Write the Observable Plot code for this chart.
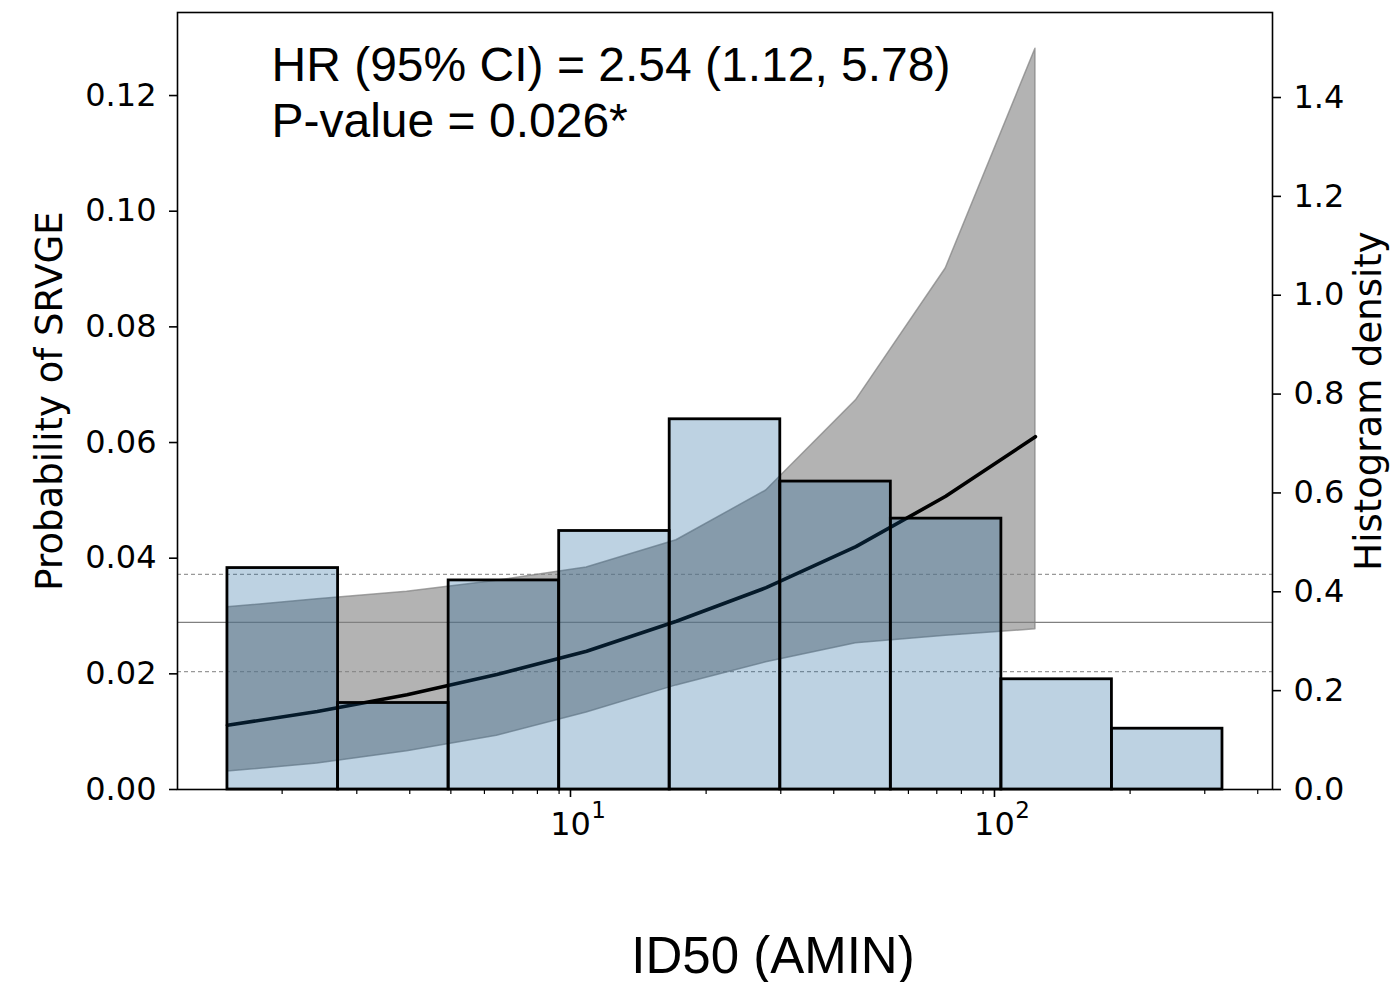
<!DOCTYPE html>
<html>
<head>
<meta charset="utf-8">
<script src="https://cdn.jsdelivr.net/npm/d3@7"></script>
<script src="https://cdn.jsdelivr.net/npm/@observablehq/plot@0.6"></script>
<style>
  html, body { margin: 0; padding: 0; background: #fff; }
</style>
</head>
<body>
<div id="chart"></div>
<script>
// ---- data ----
const binEdges = [1.486, 2.710, 4.940, 9.005, 16.41, 29.92, 54.54, 99.41, 181.2, 330.3];
const histDensity = [0.448, 0.175, 0.423, 0.523, 0.749, 0.623, 0.548, 0.223, 0.123];
const gridX = [1.486, 2.421, 3.941, 6.418, 10.45, 17.02, 27.71, 45.12, 73.47, 119.6];
const probMean  = [0.0111, 0.0135, 0.0164, 0.0199, 0.0239, 0.0291, 0.0349, 0.0420, 0.0507, 0.0610];
const probLower = [0.0031, 0.0045, 0.0066, 0.0093, 0.0133, 0.0180, 0.0220, 0.0253, 0.0266, 0.0277];
const probUpper = [0.0315, 0.0329, 0.0342, 0.0361, 0.0384, 0.0431, 0.0517, 0.0673, 0.0901, 0.1281];
const refOverall = [0.0289];
const refBounds = [0.0204, 0.0372];
const leftTicks = [0, 0.02, 0.04, 0.06, 0.08, 0.10, 0.12];
const rightTicks = [0, 0.2, 0.4, 0.6, 0.8, 1.0, 1.2, 1.4];
const xMajor = [10, 100];
const xMajorBase = ["10", "10"];
const xMajorExp = ["1", "2"];
const xMinor = [2,3,4,5,6,7,8,9,20,30,40,50,60,70,80,90,200,300,400];
const annotation = ["HR (95% CI) = 2.54 (1.12, 5.78)", "P-value = 0.026*"];

// ---- scales ----
const yLeftMax = 0.13436;
const yRightMax = 1.572;
const ratio = yLeftMax / yRightMax;

const curve = gridX.map((x, i) => ({x, mean: probMean[i], lo: probLower[i], hi: probUpper[i]}));
const bins = histDensity.map((d, i) => ({x1: binEdges[i], x2: binEdges[i + 1], d}));

const tickFont = "DejaVu Sans";
const chart = Plot.plot({
  width: 1399,
  height: 982,
  marginLeft: 177,
  marginRight: 127,
  marginTop: 12,
  marginBottom: 193,
  style: {fontFamily: tickFont, fontSize: "32px", color: "black", background: "white"},
  x: {type: "log", domain: [1.133, 433.4], label: null},
  y: {domain: [0, yLeftMax], label: null},
  marks: [
    Plot.ruleY(refOverall, {stroke: "#808080", strokeWidth: 1.2}),
    Plot.ruleY(refBounds, {stroke: "#999", strokeWidth: 1.2, strokeDasharray: "4,3"}),
    Plot.areaY(curve, {x: "x", y1: "lo", y2: "hi", fill: "gray", fillOpacity: 0.6, stroke: "gray", strokeOpacity: 0.7, strokeWidth: 1.5}),
    Plot.line(curve, {x: "x", y: "mean", stroke: "black", strokeWidth: 3.6}),
    Plot.rectY(bins, {x1: "x1", x2: "x2", y1: 0, y2: d => d.d * ratio,
      fill: "rgb(17,95,152)", fillOpacity: 0.28, stroke: "black", strokeWidth: 2.8}),
    Plot.frame({stroke: "black", strokeWidth: 1.6}),
    Plot.axisY(leftTicks, {anchor: "left", tickSize: 8, tickPadding: 13, strokeWidth: 1.6,
      fontSize: 32, fontFamily: tickFont, tickFormat: d => d.toFixed(2), label: null}),
    Plot.axisY(rightTicks.map(v => v * ratio), {anchor: "right", tickSize: 8, tickPadding: 13, strokeWidth: 1.6,
      fontSize: 32, fontFamily: tickFont, tickFormat: d => (d / ratio).toFixed(1), label: null}),
    Plot.axisX(xMajor, {anchor: "bottom", tickSize: 8, tickPadding: 15, strokeWidth: 1.6,
      fontSize: 32, fontFamily: tickFont, dx: -8, tickFormat: d => xMajorBase[xMajor.indexOf(d)], label: null}),
    Plot.text(xMajor, {x: d => d, frameAnchor: "bottom", text: d => xMajorExp[xMajor.indexOf(d)],
      dx: 20, dy: 28, fontSize: 23, fontFamily: tickFont, textAnchor: "middle"}),
    Plot.axisX(xMinor, {anchor: "bottom", tickSize: 5, strokeWidth: 1.2, text: null, label: null}),
    Plot.text(["Probability of SRVGE"], {frameAnchor: "left", text: d => d, rotate: -90, dx: -127,
      fontSize: 37, fontFamily: tickFont, textAnchor: "middle"}),
    Plot.text(["Histogram density"], {frameAnchor: "right", text: d => d, rotate: -90, dx: 97,
      fontSize: 37, fontFamily: tickFont, textAnchor: "middle"}),
    Plot.text([annotation[0]], {frameAnchor: "top-left", text: d => d, dx: 94, dy: 68,
      lineAnchor: "bottom", textAnchor: "start", fontSize: 48, fontFamily: "Liberation Sans"}),
    Plot.text([annotation[1]], {frameAnchor: "top-left", text: d => d, dx: 94, dy: 124,
      lineAnchor: "bottom", textAnchor: "start", fontSize: 48, fontFamily: "Liberation Sans"}),
    Plot.text(["ID50 (AMIN)"], {frameAnchor: "bottom", text: d => d, dx: 48, dy: 183,
      lineAnchor: "bottom", textAnchor: "middle", fontSize: 51, fontFamily: "Liberation Sans"})
  ]
});
document.getElementById("chart").appendChild(chart);
</script>
</body>
</html>
